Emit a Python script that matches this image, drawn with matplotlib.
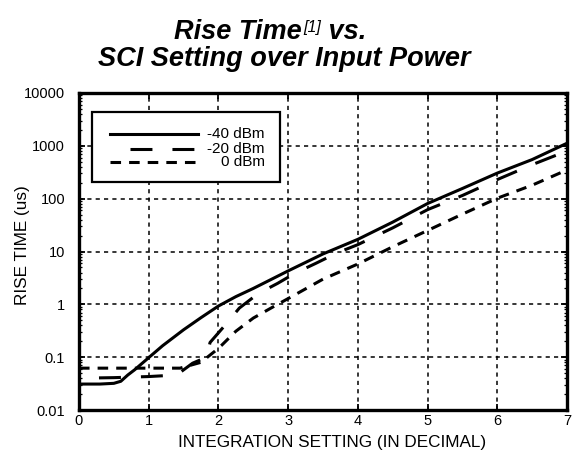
import matplotlib
matplotlib.use("Agg")
import matplotlib.pyplot as plt
from matplotlib.lines import Line2D
from matplotlib.patches import Rectangle
from matplotlib.ticker import LogLocator, NullFormatter, FixedLocator

plt.rcParams['font.family'] = ['Liberation Sans', 'DejaVu Sans']
plt.rcParams['lines.scale_dashes'] = False

# Rise time (us) vs integration setting, one curve per input power
x_m40 = [0, 0.3, 0.5, 0.6, 0.7, 0.8, 1.0, 1.2, 1.5, 1.75, 2.0, 2.25, 2.5, 3.0, 3.5, 4.0, 4.5, 5.0, 5.5, 6.0, 6.5, 7.0]
y_m40 = [0.031, 0.031, 0.032, 0.035, 0.046, 0.058, 0.098, 0.165, 0.33, 0.56, 0.93, 1.4, 2.0, 4.3, 9.0, 17, 36, 81, 156, 305, 550, 1120]

x_m20 = [0, 0.5, 1.0, 1.4, 1.63, 1.83, 1.88, 2.1, 2.3, 2.57, 2.85, 3.1, 3.4, 3.7, 4.0, 4.5, 5.0, 5.5, 6.0, 6.5, 7.0]
y_m20 = [0.040, 0.041, 0.043, 0.046, 0.077, 0.10, 0.19, 0.41, 0.85, 1.6, 2.5, 3.9, 6.0, 9.4, 13.5, 28, 62, 115, 230, 440, 800]

x_0 = [0, 1.45, 1.75, 1.95, 2.05, 2.25, 2.5, 2.8, 3.05, 3.5, 4.0, 4.5, 5.0, 5.5, 6.0, 6.5, 7.0]
y_0 = [0.062, 0.062, 0.08, 0.13, 0.17, 0.31, 0.55, 0.92, 1.4, 3.0, 5.8, 12.3, 25, 51, 102, 180, 350]

x_ticks = [0, 1, 2, 3, 4, 5, 6, 7]
y_ticks = [0.01, 0.1, 1, 10, 100, 1000, 10000]
y_tick_labels = ["0.01", "0.1", "1", "10", "100", "1000", "10000"]

series = [
    ("-40 dBm", x_m40, y_m40, "-"),
    ("-20 dBm", x_m20, y_m20, (15.8, (15.8, 14.4))),
    ("0 dBm", x_0, y_0, (0, (7.6, 5.8))),
]

fig = plt.figure(figsize=(5.72, 4.57), dpi=100)
ax = fig.add_axes([0.1381, 0.1028, 0.8532, 0.6937])

lw = 2.2
for name, xs, ys, ls in series:
    ax.plot(xs, ys, color='black', lw=lw, linestyle=ls, solid_capstyle='butt', dash_capstyle='butt')

ax.set_yscale('log')
ax.set_xlim(0, 7)
ax.set_ylim(0.01, 10000)
ax.xaxis.set_major_locator(FixedLocator(x_ticks))
ax.set_xticklabels([str(v) for v in x_ticks])
ax.yaxis.set_major_locator(FixedLocator(y_ticks))
ax.set_yticklabels(y_tick_labels)
ax.yaxis.set_minor_locator(LogLocator(base=10, subs=range(2, 10), numticks=20))
ax.yaxis.set_minor_formatter(NullFormatter())

for s in ax.spines.values():
    s.set_linewidth(2.4)

ax.tick_params(which='major', direction='in', top=True, right=True, length=4, width=1.3,
               labelsize=10.5)
ax.tick_params(which='minor', direction='in', left=True, right=True, length=2, width=0.9)
ax.tick_params(axis='y', which='major', pad=10)
ax.tick_params(axis='x', which='major', pad=3)

ax.grid(True, which='major', color='black', linestyle=(0, (3.0, 3.0)), linewidth=1.1)

ax.set_xlabel("INTEGRATION SETTING (IN DECIMAL)", fontsize=12.3, va='center')
ax.xaxis.set_label_coords(0.518, -0.104)
ax.set_ylabel("RISE TIME (us)", fontsize=12.3, va='center')
ax.yaxis.set_label_coords(-0.115, 0.52)

# Legend drawn in axes coordinates with right-aligned labels
box = Rectangle((0.026, 0.72), 0.386, 0.221, transform=ax.transAxes,
                facecolor='white', edgecolor='black', lw=1.6, zorder=5)
ax.add_patch(box)
rows = [0.871, 0.823, 0.782]
for (name, xs, ys, ls), ry in zip(series, rows):
    ax.add_line(Line2D([0.0635, 0.244], [ry, ry], transform=ax.transAxes, color='black',
                       lw=lw, linestyle=ls, zorder=6))
    ax.text(0.381, ry, name, transform=ax.transAxes, ha='right', va='center',
            fontsize=11, zorder=6)

# Two-line title with a superscript reference mark
tfont = dict(fontsize=19.5, fontweight='bold', fontstyle='italic')
t1 = fig.text(182 / 572, 1 - 39 / 457, "Rise Time", ha='left', va='baseline', **tfont)
t2 = ax.annotate("[1]", xy=(1.0, 1.0), xycoords=t1, xytext=(1.5, -1), textcoords='offset points',
                 ha='left', va='top', fontsize=11.5, fontstyle='italic', annotation_clip=False)
t3 = ax.annotate(" vs.", xy=(1.0, 0.0), xycoords=(t2, t1), ha='left', va='bottom',
                 annotation_clip=False, **tfont)
t4 = fig.text(284 / 572, 1 - 66 / 457, "SCI Setting over Input Power", ha='center', va='baseline', **tfont)

# Center the first title line (three pieces) around the same point as the second
fig.canvas.draw()
r = fig.canvas.get_renderer()
left = t1.get_window_extent(r).x0
right = t3.get_window_extent(r).x1
center_px = 0.5 * (left + right)
target_px = 270 / 572 * fig.bbox.width
x0, y0 = t1.get_position()
t1.set_position((x0 + (target_px - center_px) / fig.bbox.width, y0))

fig.savefig("out.png", dpi=100)
